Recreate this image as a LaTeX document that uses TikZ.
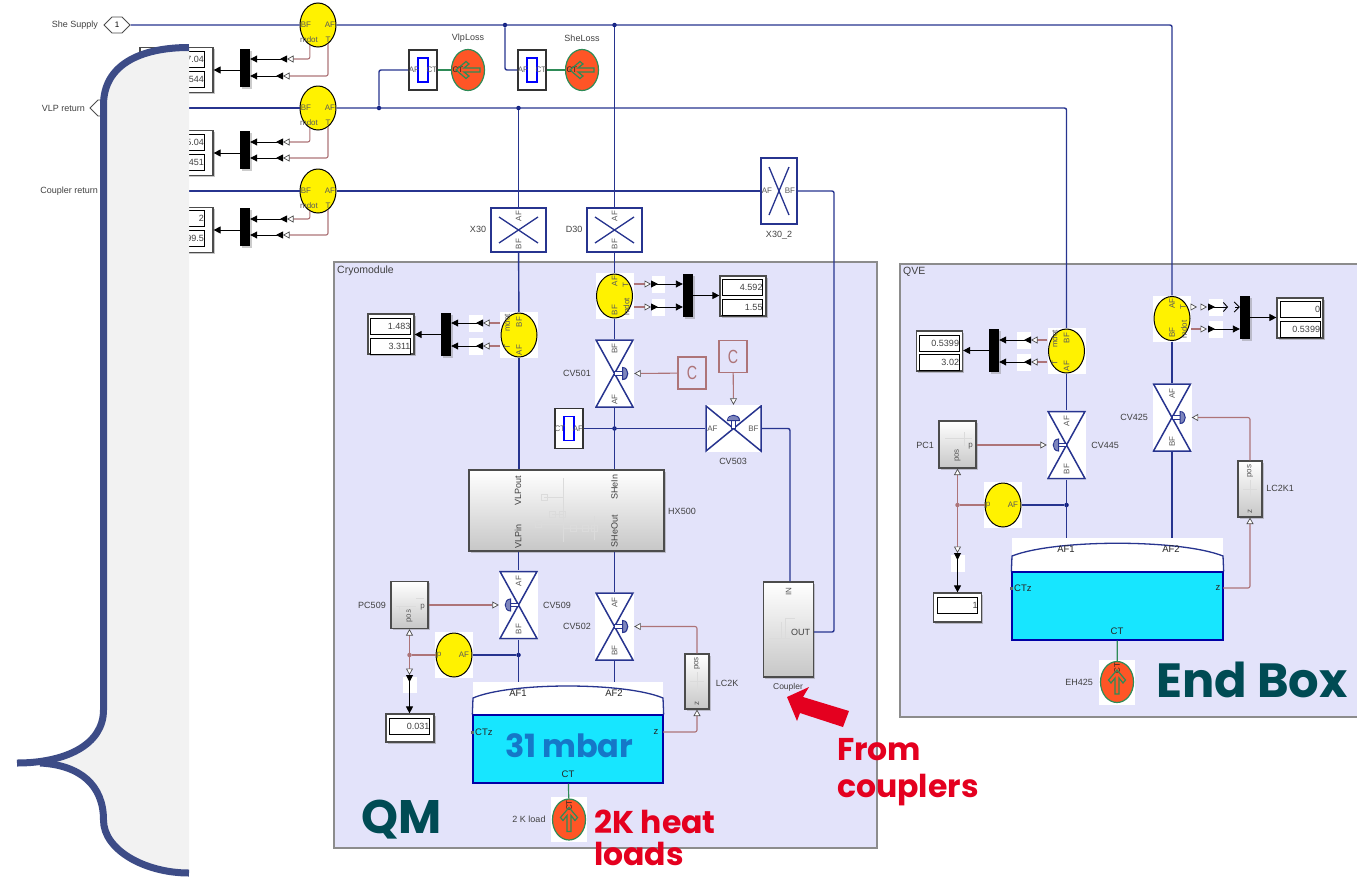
\documentclass[tikz,border=0pt]{standalone}
\usepackage{fontspec}
\setmainfont{Liberation Sans}
\newfontfamily\popfont{Poppins}
\usepackage{tikz}
\usetikzlibrary{shapes}
\usetikzlibrary{shapes.geometric}
\usetikzlibrary{shapes.symbols}
\usetikzlibrary{arrows.meta}
\usetikzlibrary{calc}
\usetikzlibrary{shadows}
\definecolor{wireblue}{HTML}{27348F}
\definecolor{navydot}{HTML}{0A1A80}
\definecolor{sigbrown}{HTML}{AD7478}
\definecolor{heatgreen}{HTML}{2E8B57}
\definecolor{heatfill}{HTML}{FF5526}
\definecolor{tankcyan}{HTML}{17E6FF}
\definecolor{subfill}{HTML}{E3E3FA}
\definecolor{bracecol}{HTML}{3D4C87}
\definecolor{panelcol}{HTML}{F2F2F2}
\definecolor{bigteal}{HTML}{004B54}
\definecolor{bigred}{HTML}{E4001F}
\definecolor{bigblue}{HTML}{1578C8}
\tikzstyle{tl}=[font=\fontsize{8}{8}\selectfont,text=black!65,inner sep=0pt]
\tikzstyle{sl}=[font=\fontsize{9}{9}\selectfont,text=black!75,inner sep=0pt]
\tikzstyle{tanklab}=[font=\fontsize{9.5}{10}\selectfont,text=black!85,inner sep=0pt]
\tikzstyle{bigtext}=[font=\popfont\bfseries\fontsize{47}{47}\selectfont,text=bigteal,inner sep=0pt,anchor=base west]
\tikzstyle{redtext}=[font=\popfont\bfseries\fontsize{31.5}{31.5}\selectfont,text=bigred,inner sep=0pt,anchor=base west]
\tikzstyle{wire}=[draw=wireblue,line width=1.4pt,rounded corners=2pt]
\tikzstyle{sig}=[draw=sigbrown,line width=1.1pt,rounded corners=2pt,-{Triangle[color=black!70,fill=white,length=6.5pt,width=7pt,line width=.7pt]}]
\tikzstyle{blk}=[draw=black,line width=.9pt,-{Triangle[length=7pt,width=7pt]}]
\tikzstyle{blkin}=[draw=black,line width=.9pt,{Triangle[reversed,length=7pt,width=7pt]}-{Triangle[length=7pt,width=7pt]}]
\tikzstyle{jdot}=[circle,fill=navydot,inner sep=0pt,minimum size=4.5pt]
\tikzstyle{bdot}=[circle,fill=sigbrown,inner sep=0pt,minimum size=4.5pt]
\tikzstyle{subsys}=[rectangle,draw=black!45,line width=1.2pt,fill=subfill,inner sep=0pt]
\tikzstyle{wpatch}=[rectangle,fill=white,inner sep=0pt]
\tikzstyle{sback}=[wpatch,minimum width=38pt,minimum height=46pt]
\tikzstyle{sensor}=[ellipse,draw=black,line width=1pt,fill=yellow,inner sep=0pt,minimum width=36pt,minimum height=44pt]
\tikzstyle{sensorh}=[sensor,
        label={[tl,xshift=-12pt]center:BF},label={[tl,xshift=12pt]center:AF},
        label={[tl,xshift=-9pt,yshift=-15pt]center:mdot},label={[tl,xshift=10pt,yshift=-15pt]center:T}]
\tikzstyle{sensorr}=[sensor,
        label={[tl,yshift=15pt,rotate=90]center:AF},label={[tl,yshift=-14pt,rotate=90]center:BF},
        label={[tl,xshift=11pt,yshift=11pt,rotate=90]center:T},label={[tl,xshift=12pt,yshift=-11pt,rotate=90]center:mdot}]
\tikzstyle{sensorl}=[sensor,
        label={[tl,yshift=13pt,rotate=90]center:BF},label={[tl,yshift=-15pt,rotate=90]center:AF},
        label={[tl,xshift=-12pt,yshift=12pt,rotate=90]center:mdot},label={[tl,xshift=-12pt,yshift=-12pt,rotate=90]center:T}]
\tikzstyle{sensorp}=[sensor,
        label={[tl,xshift=-15pt]center:p},label={[tl,xshift=10pt]center:AF}]
\tikzstyle{mux}=[rectangle,fill=black,inner sep=0pt,minimum width=10pt,minimum height=40pt,drop shadow={opacity=.4,shadow xshift=1.5pt,shadow yshift=-1.5pt}]
\tikzstyle{dispbox}=[rectangle,draw=black!70,line width=1.2pt,fill=white,inner sep=0pt,minimum width=46pt,minimum height=40pt,drop shadow={opacity=.45,shadow xshift=1.5pt,shadow yshift=-1.5pt}]
\tikzstyle{dcell}=[rectangle,draw=black,line width=.8pt,fill=white,inner sep=0pt,minimum height=16pt,text width=40pt,align=right,font=\fontsize{9}{9}\selectfont,text=black!75]
\tikzstyle{valvev}=[rectangle,fill=white,inner sep=0pt,minimum width=39pt,minimum height=69pt,
        path picture={\draw[draw=wireblue,line width=1.5pt,line join=miter]
        ([xshift=1pt,yshift=-1pt]path picture bounding box.north west) -- ([xshift=-1pt,yshift=-1pt]path picture bounding box.north east)
        -- ([xshift=1pt,yshift=1pt]path picture bounding box.south west) -- ([xshift=-1pt,yshift=1pt]path picture bounding box.south east) -- cycle;}]
\tikzstyle{valvea}=[valvev,label={[tl,yshift=24pt,rotate=90]center:AF},label={[tl,yshift=-24pt,rotate=90]center:BF}]
\tikzstyle{valveb}=[valvev,label={[tl,yshift=25pt,rotate=90]center:BF},label={[tl,yshift=-26pt,rotate=90]center:AF}]
\tikzstyle{valveh}=[rectangle,fill=white,inner sep=0pt,minimum width=57pt,minimum height=47pt,
        label={[tl,xshift=-21pt]center:AF},label={[tl,xshift=20pt]center:BF},
        path picture={\draw[draw=wireblue,line width=1.5pt,line join=miter]
        ([xshift=1pt,yshift=-1pt]path picture bounding box.north west) -- ([xshift=1pt,yshift=1pt]path picture bounding box.south west)
        -- ([xshift=-1pt,yshift=-1pt]path picture bounding box.north east) -- ([xshift=-1pt,yshift=1pt]path picture bounding box.south east) -- cycle;}]
\tikzstyle{xrest}=[rectangle,draw=wireblue,line width=1.4pt,fill=white,inner sep=0pt,
        path picture={\draw[draw=wireblue,line width=1.3pt]
        ([xshift=8pt,yshift=-9pt]path picture bounding box.north west) -- ([xshift=-8pt,yshift=9pt]path picture bounding box.south east)
        ([xshift=-8pt,yshift=-9pt]path picture bounding box.north east) -- ([xshift=8pt,yshift=9pt]path picture bounding box.south west);}]
\tikzstyle{xrestv}=[xrest,minimum width=55pt,minimum height=44pt,
        label={[tl,yshift=14pt,rotate=90]center:AF},label={[tl,yshift=-14pt,rotate=90]center:BF}]
\tikzstyle{ctblock}=[rectangle,draw=black!80,line width=1.4pt,fill=white,inner sep=0pt,minimum width=28pt,minimum height=40pt,
        path picture={\draw[draw=blue,line width=1.1pt] ([xshift=-5pt,yshift=-8pt]path picture bounding box.north) rectangle ([xshift=5pt,yshift=8pt]path picture bounding box.south);}]
\tikzstyle{gblock}=[rectangle,draw=black!70,line width=1.1pt,top color=white,bottom color=black!22,inner sep=0pt,drop shadow={opacity=.4,shadow xshift=1.5pt,shadow yshift=-1.5pt}]
\tikzstyle{pcblock}=[gblock,minimum width=37pt,minimum height=47pt,
        label={[tl,xshift=13pt,yshift=-2pt]center:p},label={[tl,yshift=-11pt,rotate=90]center:pos}]
\tikzstyle{lcblock}=[gblock,minimum width=24pt,minimum height=55pt,
        label={[tl,yshift=18pt,rotate=90]center:pos},label={[tl,yshift=-22pt,rotate=90]center:z}]
\tikzstyle{cblock}=[rectangle,draw=sigbrown,line width=1.1pt,inner sep=0pt,minimum width=28pt,minimum height=32pt,text=sigbrown,font=\fontsize{19}{19}\selectfont]
\tikzstyle{heatsrc}=[ellipse,draw=heatgreen,line width=1.2pt,fill=heatfill,inner sep=0pt,minimum width=33pt,minimum height=41pt]
\tikzstyle{hback}=[wpatch,minimum width=36pt,minimum height=45pt]
\tikzstyle{portsig}=[signal,signal to=east and west,draw=black!70,line width=.9pt,fill=white,inner sep=0pt,minimum width=26pt,minimum height=16pt,font=\fontsize{8}{8}\selectfont]
\tikzstyle{tankliq}=[rectangle,draw=blue!65!black,line width=1.3pt,fill=tankcyan,inner sep=0pt]
\tikzstyle{portdot}=[rectangle,fill=black!60,inner sep=0pt,minimum size=3pt]
\tikzstyle{faint}=[draw=black!14,line width=.7pt]
% hollow arrow of a heat source, #2 is its direction
\newcommand{\heatarrow}[2]{
\draw[draw=heatgreen,line width=1.2pt,shift={(#1.center)},rotate=#2]
(-12,-2) -- (4,-2) -- (-1,-6) -- (2,-8.5) -- (12,0) -- (2,8.5) -- (-1,6) -- (4,2) -- (-12,2) -- cycle;
}
% actuator of a valve, #2 is the side it stands on
\newcommand{\acthat}[2]{
\draw[draw=wireblue,line width=1pt,fill=white,shift={(#1.center)},rotate=#2] (0,-1.8) rectangle (9,1.8);
\draw[draw=wireblue,line width=1pt,fill=wireblue!60,shift={(#1.center)},rotate=#2] (8,-6) .. controls (15,-6) and (15,6) .. (8,6) -- cycle;
}
\begin{document}
\begin{tikzpicture}[x=1pt,y=-1pt]
\useasboundingbox (0,0) rectangle (1357,876);
%Subsystems
\node[subsys,minimum width=543pt,minimum height=586pt] (cryo) at (605.5,555) {};
\node[subsys,minimum width=462pt,minimum height=453pt] (qve) at (1131,490.5) {};
\node[sl,anchor=west,font=\fontsize{10.5}{11}\selectfont] (cryolab) at (337,271) {Cryomodule};
\node[sl,anchor=west,font=\fontsize{10.5}{11}\selectfont] (qvelab) at (903,272) {QVE};
%Ports
\node[portsig] (sup) at (117,25) {1};
\node[portsig] (vlp) at (103,108) {};
\node[sl,anchor=east] (suplab) at (98,25) {She Supply};
\node[sl,anchor=east] (vlplab) at (85,108) {VLP return};
\node[sl,anchor=east] (coulab) at (98,191) {Coupler return};
\coordinate (cou) at (110,191);
%Sensors at the inlets, with their displays
\foreach \n/\yc/\ma/\mb/\ya/\yb/\xa/\ca/\cb/\ta/\tb in {
1/25/68/70/59/76/287/59/79/7.04/544,
2/108/150/153/142/158/283/142/162/5.04/451,
3/191/227/230/219/235/287/218/238/2/99.5}{
\node[sensorh] (s\n) at (318,\yc) {};
\node[mux,minimum height=38pt] (m\n) at (245,\ma) {};
\node[dispbox,minimum width=73pt,minimum height=45pt] (d\n) at (176.5,\mb) {};
\node[dcell,text width=61pt] (da\n) at (173.5,\ca) {\ta};
\node[dcell,text width=61pt] (db\n) at (173.5,\cb) {\tb};
\coordinate (ha\n) at (\xa,\ya);
\coordinate (hb\n) at (283,\yb);
\draw[sig] (s\n.-112) |- (ha\n);
\draw[sig] (s\n.-62) |- (hb\n);
\draw[blkin] (ha\n) -- (ha\n -| m\n.east);
\draw[blkin] (hb\n) -- (hb\n -| m\n.east);
\draw[blk] (m\n.west |- 0,\mb) -- (d\n.east |- 0,\mb);
}
%Loss blocks
\node[ctblock,label={[tl,xshift=-9pt]center:AF},label={[tl,xshift=9pt]center:CT}] (ct1) at (423,70) {};
\node[ctblock,label={[tl,xshift=-9pt]center:AF},label={[tl,xshift=9pt]center:CT}] (ct2) at (532,70) {};
\node[heatsrc,label={[tl,xshift=-10pt,text=black!85]center:CT}] (vl) at (468,70) {};
\node[heatsrc,label={[tl,xshift=-10pt,text=black!85]center:CT}] (sl) at (582,70) {};
\heatarrow{vl}{180}
\heatarrow{sl}{180}
\node[sl] (vllab) at (468,38) {VlpLoss};
\node[sl] (sllab) at (582,38) {SheLoss};
%Restrictions
\node[xrestv] (x30) at (518.5,230) {};
\node[xrestv] (d30) at (614.5,230) {};
\node[xrest,minimum width=36pt,minimum height=66pt,label={[tl,xshift=-12pt]center:AF},label={[tl,xshift=11pt]center:BF}] (x30b) at (779,191) {};
\node[sl] (x30lab) at (478,229) {X30};
\node[sl] (d30lab) at (574,229) {D30};
\node[sl] (x30blab) at (779,235) {X30\_2};
\node[jdot] (j1) at (379,108) {};
\node[jdot] (j2) at (505,25) {};
\node[jdot] (j3) at (614.5,25) {};
\node[jdot] (j4) at (518.5,108) {};
%Cryomodule sensors
\node[sback] (s4b) at (614.5,296) {};
\node[sensorr] (s4) at (614.5,296) {};
\node[sback] (s5b) at (519,335) {};
\node[sensorl] (s5) at (519,335) {};
\node[wpatch,minimum width=13pt,minimum height=17pt] (p4a) at (658.5,284) {};
\node[wpatch,minimum width=13pt,minimum height=17pt] (p4b) at (658.5,307) {};
\node[wpatch,minimum width=14pt,minimum height=17pt] (p5a) at (476,323) {};
\node[wpatch,minimum width=14pt,minimum height=17pt] (p5b) at (476,346) {};
\node[mux,minimum height=43pt] (m4) at (688,295.5) {};
\node[mux,minimum height=43pt] (m5) at (446,334.5) {};
\node[dispbox] (d4) at (743,296) {};
\node[dcell] (d4a) at (742.5,287.5) {4.592};
\node[dcell] (d4b) at (742.5,307) {1.55};
\node[dispbox] (d5) at (391,334) {};
\node[dcell] (d5a) at (390.5,326) {1.483};
\node[dcell] (d5b) at (390.5,346) {3.311};
\coordinate (h4a) at (651,284);
\coordinate (h4b) at (651,307);
\coordinate (h5a) at (483,323);
\coordinate (h5b) at (483,346);
%Valves
\node[valveb] (cv501) at (614.5,373.5) {};
\node[valveh] (cv503) at (733.5,428.5) {};
\node[valvea] (cv509) at (518.5,605) {};
\node[valvea] (cv502) at (614.5,626.5) {};
\acthat{cv501}{0}
\acthat{cv503}{90}
\acthat{cv509}{180}
\acthat{cv502}{0}
\node[sl] (cv501lab) at (577,373) {CV501};
\node[sl] (cv503lab) at (733,461) {CV503};
\node[sl] (cv509lab) at (557,605) {CV509};
\node[sl] (cv502lab) at (577,626) {CV502};
\node[cblock] (c1) at (692,373) {\scalebox{.75}[1]{C}};
\node[cblock] (c2) at (733,356.5) {\scalebox{.75}[1]{C}};
\node[ctblock,label={[tl,xshift=-9pt]center:CT},label={[tl,xshift=9pt]center:AF}] (ct3) at (569,428.5) {};
\node[jdot] (j5) at (614.5,428.5) {};
%Heat exchanger
\node[gblock,minimum width=195pt,minimum height=81pt,
label={[sl,xshift=-48.5pt,yshift=19.5pt,rotate=90]center:VLPout},
label={[sl,xshift=48pt,yshift=23.5pt,rotate=90]center:SHeIn},
label={[sl,xshift=-48.5pt,yshift=-25.5pt,rotate=90]center:VLPin},
label={[sl,xshift=48pt,yshift=-20.5pt,rotate=90]center:SHeOut}] (hx) at (566.5,510.5) {};
\node[sl] (hxlab) at (682,511) {HX500};
\draw[faint] (563,478) -- (563,542) (544,497) -- (563,497) (538,524) -- (563,524) (552,514) -- (563,514) (563,528) -- (594,528) (594,516) -- (594,540);
\foreach \x/\y in {544/497,552/514,538/524,562/514,573/528,585/528,594/528}
\draw[faint] (\x-3,\y-3) rectangle (\x+3,\y+3);
%Coupler and controllers
\node[gblock,minimum width=50pt,minimum height=95pt,
label={[tl,yshift=38pt,rotate=90]center:IN},label={[sl,xshift=12pt,yshift=-2.5pt]center:OUT}] (coup) at (788.5,629.5) {};
\draw[faint] (769,638) -- (790,638) (781,638) -- (781,622) (785,618) -- (785,638) (785,618) -- (795,618);
\node[sl,font=\fontsize{8.5}{9}\selectfont] (couplab) at (788,687) {Coupler};
\node[pcblock] (pc509) at (409.5,605) {};
\draw[faint] (396,606) -- (416,606) (399,606) -- (399,612) -- (410,612) (416,598) -- (424,598);
\node[sl] (pc509lab) at (372,605) {PC509};
\node[lcblock] (lc2k) at (697,681.5) {};
\draw[faint] (697,672) -- (697,692) (690,681) -- (704,681);
\node[sl] (lc2klab) at (727,683) {LC2K};
\node[wpatch,minimum width=38pt,minimum height=46pt] (s6b) at (454,655) {};
\node[sensorp] (s6) at (454,655) {};
\node[jdot] (j6) at (518.5,655) {};
\node[bdot] (j7) at (409.5,655) {};
\coordinate (h6) at (409.5,675);
\node[wpatch,minimum width=14pt,minimum height=16pt] (p6) at (409.5,685) {};
\node[dispbox,minimum width=48pt,minimum height=28pt] (d6) at (410,728) {};
\node[dcell] (d6a) at (409.5,726) {0.031};
%Tank of the cryomodule
\node[wpatch,minimum width=190pt,minimum height=33pt] (tqt) at (568,698.5) {};
\node[tankliq,minimum width=190pt,minimum height=68pt] (tq) at (568,749) {};
\draw[draw=wireblue,line width=1.3pt] (tq.north west) -- (473,698) .. controls (510,682) and (625,682) .. (663,698) -- (tq.north east);
\coordinate (tqz) at (663,732);
\node[tanklab] (tqa1) at (518,693) {AF1};
\node[tanklab] (tqa2) at (614,693) {AF2};
\node[portdot] (tqp) at (472,732) {};
\node[tanklab,anchor=west] (tqc) at (475,732) {CTz};
\node[tanklab] (tqzlab) at (656,732) {z};
\node[tanklab] (tqct) at (568,774) {CT};
\node[hback] (hqb) at (569,819.5) {};
\node[heatsrc,label={[tl,yshift=14pt,text=black!85,rotate=90]center:CT}] (hq) at (569,819.5) {};
\heatarrow{hq}{90}
\node[sl] (hqlab) at (529,819) {2 K load};
%QVE
\node[sback] (s7b) at (1066.5,351) {};
\node[sensorl] (s7) at (1066.5,351) {};
\node[sback] (s8b) at (1172,318.5) {};
\node[sensorr] (s8) at (1172,318.5) {};
\node[wpatch,minimum width=14pt,minimum height=17pt] (p7a) at (1024,340) {};
\node[wpatch,minimum width=14pt,minimum height=17pt] (p7b) at (1024,362) {};
\node[wpatch,minimum width=14pt,minimum height=17pt] (p8a) at (1216,307) {};
\node[wpatch,minimum width=14pt,minimum height=17pt] (p8b) at (1216,329) {};
\node[mux,minimum height=43pt] (m7) at (994,350.5) {};
\node[mux,minimum height=43pt] (m8) at (1245,317.5) {};
\node[dispbox] (d7) at (939.5,351) {};
\node[dcell] (d7a) at (939,343) {0.5399};
\node[dcell] (d7b) at (939,362) {3.02};
\node[dispbox] (d8) at (1300,318) {};
\node[dcell] (d8a) at (1300,309.5) {0};
\node[dcell] (d8b) at (1300,329) {0.5399};
\coordinate (h7a) at (1031,340);
\coordinate (h7b) at (1031,362);
\coordinate (h8o) at (1197,307);
\coordinate (h8s) at (1201,307);
\coordinate (h8e) at (1207,307);
\coordinate (h8a) at (1208,307);
\coordinate (h8c) at (1228,307);
\coordinate (h8d) at (1235,307);
\coordinate (h8b) at (1208,329);
\node[valvea] (cv445) at (1066.5,445) {};
\node[valvea] (cv425) at (1172,417.5) {};
\acthat{cv445}{180}
\acthat{cv425}{0}
\node[sl] (cv445lab) at (1105,445) {CV445};
\node[sl] (cv425lab) at (1134,417) {CV425};
\node[pcblock] (pc1) at (957.5,444.5) {};
\draw[faint] (945,438) -- (972,438) (964,432) -- (964,446);
\node[sl] (pc1lab) at (925,445) {PC1};
\node[lcblock,minimum height=56pt] (lc2k1) at (1250,489) {};
\draw[faint] (1250,480) -- (1250,498) (1243,489) -- (1257,489);
\node[sl] (lc2k1lab) at (1280,488) {LC2K1};
\node[wpatch,minimum width=38pt,minimum height=46pt] (s9b) at (1003,505) {};
\node[sensorp] (s9) at (1003,505) {};
\node[jdot] (j8) at (1066.5,505) {};
\node[bdot] (j9) at (957.5,505) {};
\coordinate (h9) at (957.5,553);
\node[wpatch,minimum width=14pt,minimum height=17pt] (p9) at (957.5,563) {};
\node[dispbox,minimum width=48pt,minimum height=29pt] (d9) at (957.5,607.5) {};
\node[dcell] (d9a) at (957.5,605.5) {1};
%Tank of the end box
\node[wpatch,minimum width=211pt,minimum height=34pt] (tvt) at (1117.5,555) {};
\node[tankliq,minimum width=211pt,minimum height=68pt] (tv) at (1117.5,606) {};
\draw[draw=wireblue,line width=1.3pt] (tv.north west) -- (1012,556) .. controls (1055,539) and (1180,539) .. (1223,556) -- (tv.north east);
\coordinate (tvz) at (1223,588);
\node[tanklab] (tva1) at (1066,549) {AF1};
\node[tanklab] (tva2) at (1171,549) {AF2};
\node[portdot] (tvp) at (1011,588) {};
\node[tanklab,anchor=west] (tvc) at (1014,588) {CTz};
\node[tanklab] (tvzlab) at (1218,588) {z};
\node[tanklab] (tvct) at (1117,631) {CT};
\node[hback] (hvb) at (1117,682) {};
\node[heatsrc,label={[tl,yshift=14pt,text=black!85,rotate=90]center:CT}] (hv) at (1117,682) {};
\heatarrow{hv}{90}
\node[sl] (hvlab) at (1079,682) {EH425};
%Drawing Edges
\draw[wire] (sup) -- (s1);
\draw[wire] (s1) -| (s8b.north);
\draw[wire] (vlp) -- (s2);
\draw[wire] (s2) -| (s7b.north);
\draw[wire] (cou) -- (s3);
\draw[wire] (s3) -- (x30b);
\draw[wire] (x30b.east) -- (834,191) -- (834,632) -- (coup.east |- 0,632);
\draw[wire] (j1) |- (ct1);
\draw[wire] (j2) |- (ct2);
\draw[wire] (j3) -- (d30);
\draw[wire] (j4) -- (x30);
\draw[draw=heatgreen,line width=1.2pt] (ct1) -- (vl);
\draw[draw=heatgreen,line width=1.2pt] (ct2) -- (sl);
\draw[wire] (d30) -- (s4b);
\draw[wire] (x30) -- (s5b);
\draw[wire] (s4b) -- (cv501);
\draw[wire] (s5b) -- (s5b |- hx.north);
\draw[wire] (cv501) -- (cv501 |- hx.north);
\draw[wire] (ct3) -- (cv503);
\draw[wire] (cv503.east) -| (coup.north -| 790,0);
\draw[wire] (cv509 |- hx.south) -- (cv509);
\draw[wire] (cv502 |- hx.south) -- (cv502);
\draw[wire] (cv509) -- (cv509 |- tqt.north);
\draw[wire] (cv502) -- (cv502 |- tqt.north);
\draw[wire] (s6) -- (j6);
\draw[sig,-] (j7) -- (s6);
\draw[sig] (j7) -- (pc509.south);
\draw[sig] (j7) -- (h6);
\draw[blkin] (h6) -- (d6.north -| h6);
\draw[sig] (pc509.east |- cv509) -- (cv509.west);
\draw[sig] (c1) -- (cv501.east);
\draw[sig] (c2) -- (cv503.north);
\draw[sig] (tqz) -| (lc2k.south);
\draw[sig] (lc2k.north) |- (cv502.east);
\draw[draw=heatgreen,line width=1.2pt] (tq) -- (hq);
\draw[sig] (h4a -| s4b.east) -- (h4a);
\draw[sig] (h4b -| s4b.east) -- (h4b);
\draw[blkin] (h4a) -- (h4a -| m4.west);
\draw[blkin] (h4b) -- (h4b -| m4.west);
\draw[blk] (m4.east) -- (m4.east -| d4.west);
\draw[sig] (h5a -| s5b.west) -- (h5a);
\draw[sig] (h5b -| s5b.west) -- (h5b);
\draw[blkin] (h5a) -- (h5a -| m5.east);
\draw[blkin] (h5b) -- (h5b -| m5.east);
\draw[blk] (m5.west) -- (m5.west -| d5.east);
\draw[wire] (s7b) -- (cv445);
\draw[wire] (s8b) -- (cv425);
\draw[wire] (cv445) -- (cv445 |- tvt.north);
\draw[wire] (cv425) -- (cv425 |- tvt.north);
\draw[wire] (s9) -- (j8);
\draw[sig,-] (j9) -- (s9);
\draw[sig] (j9) -- (pc1.south);
\draw[sig] (j9) -- (h9);
\draw[blkin] (h9) -- (d9.north -| h9);
\draw[sig] (pc1.east |- cv445) -- (cv445.west);
\draw[sig] (tvz) -| (lc2k1.south);
\draw[sig] (lc2k1.north) |- (cv425.east);
\draw[draw=heatgreen,line width=1.2pt] (tv) -- (hv);
\draw[sig] (h7a -| s7b.west) -- (h7a);
\draw[sig] (h7b -| s7b.west) -- (h7b);
\draw[blkin] (h7a) -- (h7a -| m7.east);
\draw[blkin] (h7b) -- (h7b -| m7.east);
\draw[blk] (m7.west) -- (m7.west -| d7.east);
\draw[sig,draw=white] (h8o -| s8b.east) -- (h8o);
\draw[sig,draw=white] (h8s) -- (h8e);
\draw[draw=black,line width=.9pt,{Triangle[reversed,length=7pt,width=7pt]}-{Straight Barb[length=4pt,width=9pt]}] (h8a) -- (h8c);
\draw[draw=black,line width=.9pt,-{Straight Barb[length=5pt,width=10pt]}] (h8d) -- (h8d -| m8.west);
\draw[sig] (h8b -| s8b.east) -- (h8b -| h8e);
\draw[blkin] (h8b) -- (h8b -| m8.west);
\draw[blk] (m8.east) -- (m8.east -| d8.west);
%Brace with its panel
\fill[panelcol] (189,47.5) .. controls (140,47.5) and (103.5,65) .. (103.5,105) -- (103.5,710) .. controls (103.5,745) and (65,763) .. (40,763) .. controls (80,768) and (103.5,785) .. (103.5,820) .. controls (103.5,850) and (145,873) .. (189,873) -- cycle;
\draw[draw=bracecol,line width=7pt] (189,47.5) .. controls (140,47.5) and (103.5,65) .. (103.5,105) -- (103.5,710) .. controls (103.5,745) and (65,763) .. (17,763);
\draw[draw=bracecol,line width=7pt] (40,763) .. controls (80,765) and (103.5,785) .. (103.5,820) .. controls (103.5,850) and (145,873) .. (189,873);
%Notes
\node[bigtext] (qm) at (361,833) {QM};
\node[bigtext,font=\popfont\bfseries\fontsize{48}{48}\selectfont] (endbox) at (1156,697) {End Box};
\node[bigtext,font=\popfont\bfseries\fontsize{32}{32}\selectfont,text=bigblue] (mbar) at (505,757) {\spaceskip=.18em\relax 31 mbar};
\node[redtext] (heat1) at (594,833) {2K heat};
\node[redtext] (heat2) at (594,865) {loads};
\node[redtext] (from1) at (837,760) {From};
\node[redtext] (from2) at (837,797) {couplers};
\fill[bigred] (787,697) -- (809,687) -- (803,697) -- (849,711) -- (843,727) -- (800,713) -- (797,721) -- cycle;
\end{tikzpicture}
\end{document}
